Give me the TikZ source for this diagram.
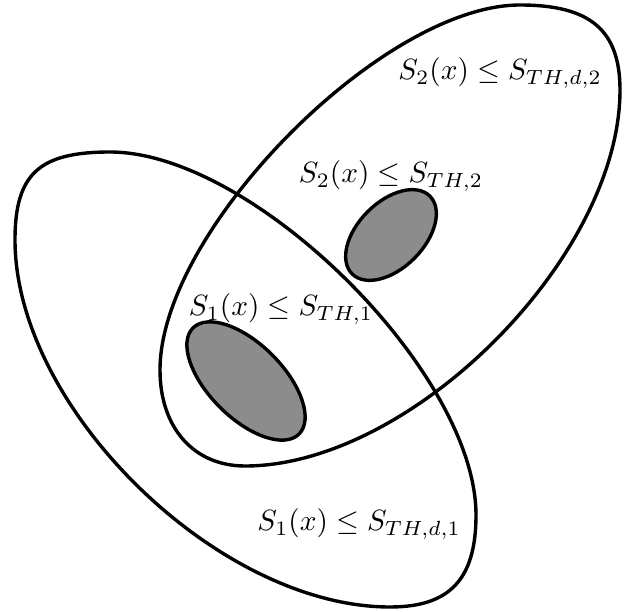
\documentclass[tikz,border=0pt]{standalone}
\usepackage{amsmath}
\definecolor{regiongray}{RGB}{140,140,140}
\begin{document}
\begin{tikzpicture}[x=1pt,y=-1pt,
  outline/.style={draw=black,line width=3.4pt},
  region/.style={draw=black,line width=3.4pt,fill=regiongray},
  lbl/.style={inner sep=0pt,scale=2.93}]
\useasboundingbox (0,0) rectangle (627,612);
% large set 1 (lower left)
\draw[outline] (110,152) .. controls (253.5,152) and (476,372.7) .. (476,515)
  .. controls (476,579) and (450,607) .. (390,607)
  .. controls (218,607) and (15,408) .. (15,240)
  .. controls (15,174) and (39,152) .. (110,152) -- cycle;
% large set 2 (upper right)
\draw[outline] (520,5) .. controls (590,5) and (620,30) .. (620,90)
  .. controls (620,257) and (411.5,466) .. (245,466)
  .. controls (194,466) and (160,428) .. (160,370)
  .. controls (160,230.6) and (382.5,5) .. (520,5) -- cycle;
% small shaded sets
\draw[region,rotate around={-45:(246,381)}] (246,381) ellipse [x radius=75,y radius=37];
\draw[region,rotate around={45:(391,235)}] (391,235) ellipse [x radius=55,y radius=33];
% labels
\node[lbl] (l1) at (500,73) {$S_2(x)\leq S_{TH,d,2}$};
\node[lbl] (l2) at (391,176) {$S_2(x)\leq S_{TH,2}$};
\node[lbl] (l3) at (281,309) {$S_1(x)\leq S_{TH,1}$};
\node[lbl] (l4) at (359,524) {$S_1(x)\leq S_{TH,d,1}$};
\end{tikzpicture}
\end{document}
